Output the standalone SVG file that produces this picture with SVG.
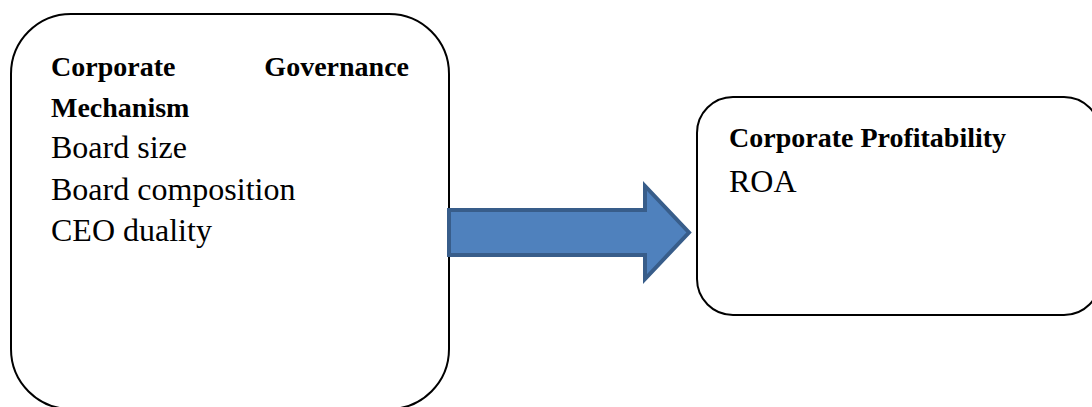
<svg xmlns="http://www.w3.org/2000/svg" width="1092" height="407" viewBox="0 0 1092 407">
<style>
.box{fill:#ffffff;stroke:#000000;stroke-width:2}
.b{font-family:"Liberation Serif","Times New Roman",serif;font-weight:bold;font-size:28px;fill:#000}
.r{font-family:"Liberation Serif","Times New Roman",serif;font-size:32px;fill:#000}
.arrow{fill:#4F81BD;stroke:#385D8A;stroke-width:4;stroke-linejoin:miter}
</style>
<rect width="1092" height="407" fill="#ffffff"/>
<g id="node-governance">
<rect class="box" x="11" y="14" width="438" height="395" rx="60" ry="60"/>
<text class="b" x="51" y="76">Corporate</text>
<text class="b" x="409" y="76" text-anchor="end">Governance</text>
<text class="b" x="51" y="117">Mechanism</text>
<text class="r" x="51" y="158">Board size</text>
<text class="r" x="51" y="200">Board composition</text>
<text class="r" x="51" y="241">CEO duality</text>
</g>
<g id="node-profitability">
<rect class="box" x="697" y="97" width="403" height="218" rx="36" ry="36"/>
<text class="b" x="729" y="147">Corporate Profitability</text>
<text class="r" x="729" y="192">ROA</text>
</g>
<g id="connectors">
<polygon class="arrow" points="449,210 645,210 645,186 689,232.5 645,279 645,255 449,255"/>
</g>
</svg>
